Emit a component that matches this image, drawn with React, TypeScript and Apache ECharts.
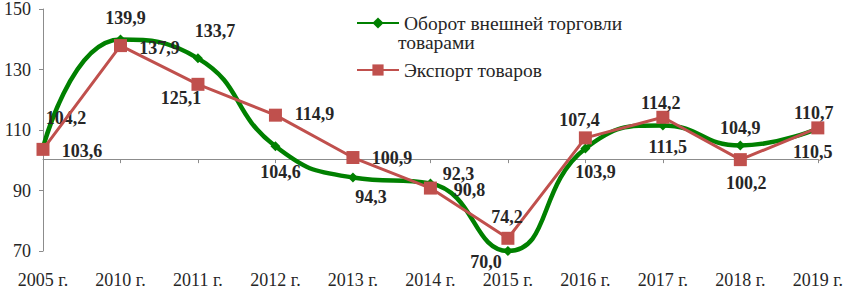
import React, { useEffect, useRef } from "react";
import * as echarts from "echarts";

const categories = ["2005 г.", "2010 г.", "2011 г.", "2012 г.", "2013 г.", "2014 г.", "2015 г.", "2016 г.", "2017 г.", "2018 г.", "2019 г."];
const turnover = [104.2, 139.9, 133.7, 104.6, 94.3, 92.3, 70.0, 103.9, 111.5, 104.9, 110.5];
const exportVals = [103.6, 137.9, 125.1, 114.9, 100.9, 90.8, 74.2, 107.4, 114.2, 100.2, 110.7];
const yTicks = [70, 90, 110, 130, 150];
const seriesNames = ["Оборот внешней торговли", "Экспорт товаров"];

// label offsets (style, kept separate from data)
const turnoverOffsets = [[23, -30], [5, -22], [17, -27], [5, 26], [18, 20], [28, -10], [-22, 11], [10, 24], [5, 22], [0, -17], [-5, 24]];
const exportOffsets = [[39, 2], [39, 2], [-17, 14], [39, -1], [39, 0], [39, 2], [-1, -21], [-6, -18], [-2, -14], [6, 23], [-4, -15]];

const fmt = (v: number) => v.toFixed(1).replace(".", ",");

export default function App() {
  const ref = useRef<HTMLDivElement>(null);
  useEffect(() => {
    if (!ref.current) return;
    const chart = echarts.init(ref.current, undefined, { renderer: "svg" });
    const font = "Liberation Serif";
    const labelBase = {
      show: true,
      position: "inside",
      fontFamily: font,
      fontSize: 18,
      fontWeight: "bold",
      color: "#262626",
    };
    const gridTop = 7.5;
    const gridBottom = 36.5;
    const plotH = 289 - gridTop - gridBottom;
    const axisOffset = -((100 - 70) / (150 - 70)) * plotH;
    chart.setOption({
      animation: false,
      textStyle: { fontFamily: font },
      grid: { left: 43, right: 26, top: gridTop, bottom: gridBottom, containLabel: false },
      legend: {
        orient: "vertical",
        left: 351,
        top: 8,
        itemWidth: 42,
        itemHeight: 14,
        itemGap: 27,
        textStyle: { fontFamily: font, fontSize: 19.5, color: "#262626", lineHeight: 19 },
        data: seriesNames,
      },
      graphic: [
        {
          type: "text",
          left: 398,
          top: 32,
          style: { text: "товарами", fontFamily: font, fontSize: 19.5, fill: "#262626" },
        },
      ],
      xAxis: {
        type: "category",
        data: categories,
        boundaryGap: false,
        offset: axisOffset,
        axisLine: { show: true, lineStyle: { color: "#8c8c8c", width: 1 } },
        axisTick: { show: true, length: 4, inside: false, lineStyle: { color: "#8c8c8c" } },
        axisLabel: { fontFamily: font, fontSize: 18, color: "#262626", margin: -axisOffset + 20 },
        splitLine: { show: false },
      },
      yAxis: {
        type: "value",
        min: yTicks[0],
        max: yTicks[yTicks.length - 1],
        interval: 20,
        axisLine: { show: true, lineStyle: { color: "#8c8c8c", width: 1 } },
        axisTick: { show: true, length: 4, lineStyle: { color: "#8c8c8c" } },
        axisLabel: { fontFamily: font, fontSize: 18, color: "#262626", margin: 12 },
        splitLine: { show: false },
      },
      series: [
        {
          name: seriesNames[0],
          type: "line",
          smooth: 0.5,
          symbol: "diamond",
          symbolSize: 10,
          lineStyle: { color: "#008000", width: 4.5 },
          itemStyle: { color: "#008000" },
          data: turnover.map((v, i) => ({
            value: v,
            label: { ...labelBase, offset: turnoverOffsets[i], formatter: () => fmt(v) },
          })),
          z: 2,
        },
        {
          name: seriesNames[1],
          type: "line",
          symbol: "rect",
          symbolSize: 13,
          lineStyle: { color: "#c0504d", width: 3 },
          itemStyle: { color: "#c0504d" },
          data: exportVals.map((v, i) => ({
            value: v,
            label: { ...labelBase, offset: exportOffsets[i], formatter: () => fmt(v) },
          })),
          z: 3,
        },
      ],
    });
    return () => chart.dispose();
  }, []);
  return <div ref={ref} style={{ width: 846, height: 289, position: "absolute", left: 0, top: 0 }} />;
}
